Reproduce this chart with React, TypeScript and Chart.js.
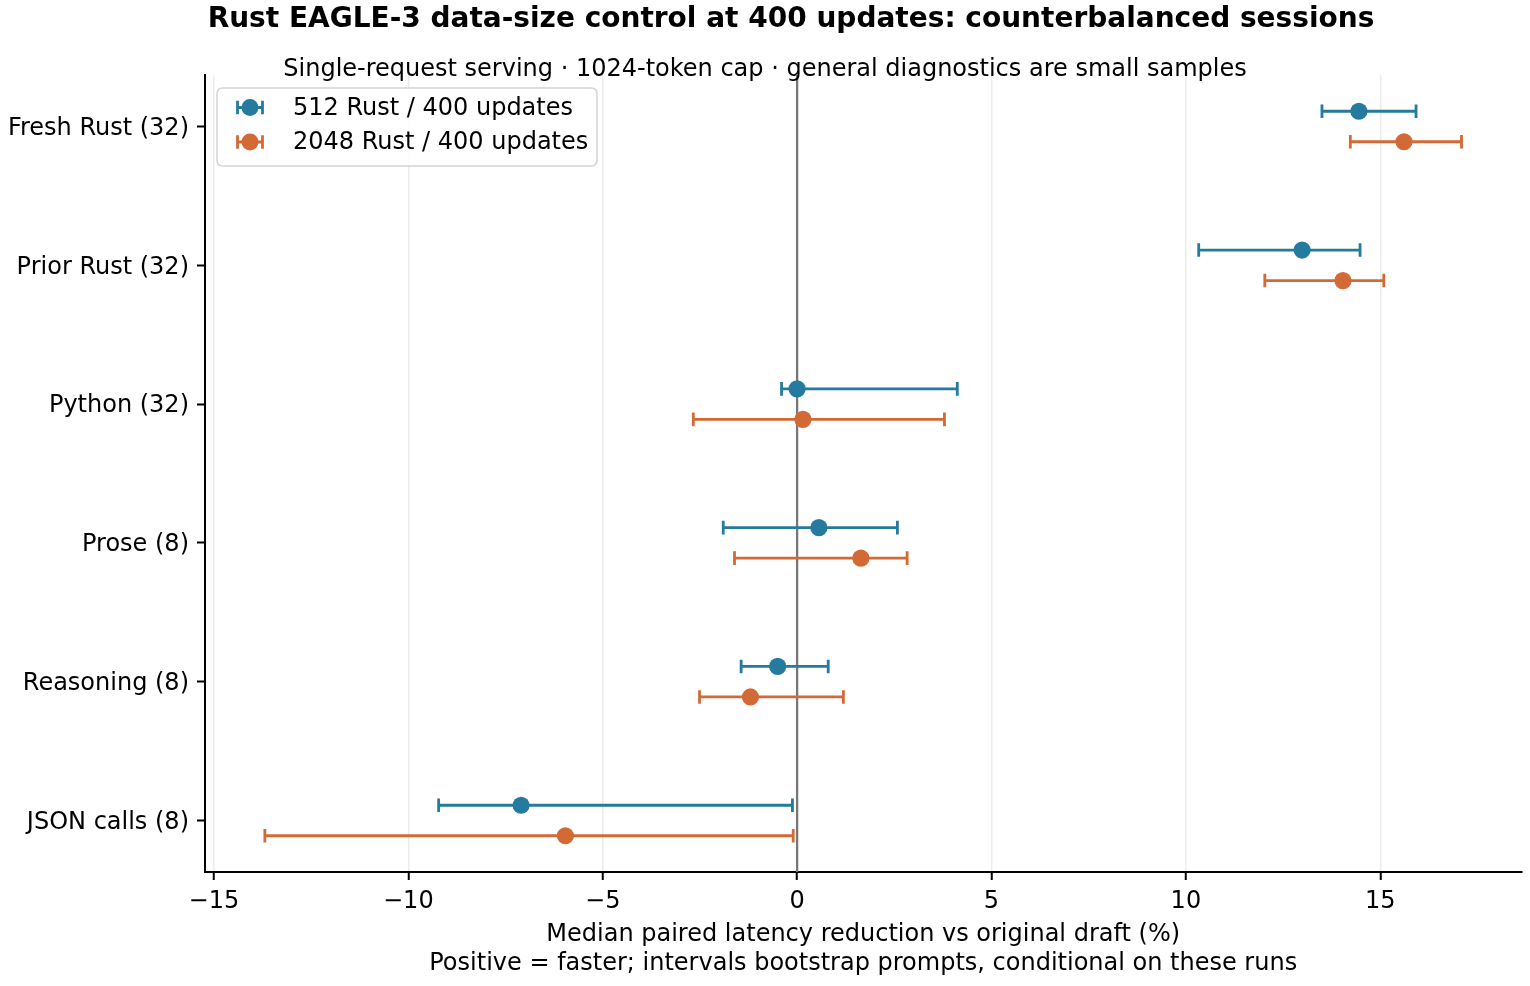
import React, { useEffect, useRef } from 'react';
import { Chart, registerables } from 'chart.js';

Chart.register(...registerables);

const categories = ['Fresh Rust (32)', 'Prior Rust (32)', 'Python (32)', 'Prose (8)', 'Reasoning (8)', 'JSON calls (8)'];
const seriesNames = ['512 Rust / 400 updates', '2048 Rust / 400 updates'];
const median512 = [14.45, 12.99, 0.0, 0.56, -0.5, -7.1];
const low512 = [13.5, 10.33, -0.4, -1.9, -1.44, -9.22];
const high512 = [15.92, 14.48, 4.12, 2.58, 0.8, -0.12];
const median2048 = [15.61, 14.04, 0.15, 1.64, -1.2, -5.96];
const low2048 = [14.23, 12.03, -2.67, -1.61, -2.51, -13.69];
const high2048 = [17.09, 15.09, 3.79, 2.83, 1.19, -0.1];
const xTicks = [-15, -10, -5, 0, 5, 10, 15];

const titleText = 'Rust EAGLE-3 data-size control at 400 updates: counterbalanced sessions';
const subtitleText = 'Single-request serving · 1024-token cap · general diagnostics are small samples';
const xLabelLines = [
  'Median paired latency reduction vs original draft (%)',
  'Positive = faster; intervals bootstrap prompts, conditional on these runs',
];

const COLORS = ['#247a9f', '#d36a35'];
const OFFSETS = [-0.11, 0.11];
const FONT = '"DejaVu Sans", "Liberation Sans", sans-serif';
const FS = 24;

export default function App() {
  const ref = useRef<HTMLCanvasElement | null>(null);

  useEffect(() => {
    document.body.style.margin = '0';
    const canvas = ref.current;
    if (!canvas) return;

    const series = [
      { med: median512, lo: low512, hi: high512 },
      { med: median2048, lo: low2048, hi: high2048 },
    ];

    const errorBars = {
      id: 'errorBars',
      beforeDatasetsDraw(chart: any) {
        const ctx = chart.ctx;
        const xs = chart.scales.x;
        const ys = chart.scales.y;
        const area = chart.chartArea;
        ctx.save();
        ctx.strokeStyle = '#777777';
        ctx.lineWidth = 2.3;
        ctx.beginPath();
        const zx = xs.getPixelForValue(0);
        ctx.moveTo(zx, area.top);
        ctx.lineTo(zx, area.bottom);
        ctx.stroke();
        series.forEach((s, si) => {
          ctx.strokeStyle = COLORS[si];
          ctx.lineWidth = 2.8;
          s.med.forEach((_, i) => {
            const y = ys.getPixelForValue(i + OFFSETS[si]);
            const x1 = xs.getPixelForValue(s.lo[i]);
            const x2 = xs.getPixelForValue(s.hi[i]);
            ctx.beginPath();
            ctx.moveTo(x1, y);
            ctx.lineTo(x2, y);
            ctx.moveTo(x1, y - 6.8);
            ctx.lineTo(x1, y + 6.8);
            ctx.moveTo(x2, y - 6.8);
            ctx.lineTo(x2, y + 6.8);
            ctx.stroke();
          });
        });
        ctx.restore();
      },
      afterDraw(chart: any) {
        const ctx = chart.ctx;
        const area = chart.chartArea;
        ctx.save();
        ctx.fillStyle = '#000';
        ctx.font = `bold 28px ${FONT}`;
        ctx.textAlign = 'center';
        ctx.textBaseline = 'middle';
        ctx.fillText(titleText, 791, 20);
        ctx.font = `${FS}px ${FONT}`;
        ctx.fillText(subtitleText, 765, 70);
        const cx = (area.left + area.right) / 2;
        ctx.fillText(xLabelLines[0], cx, 935);
        ctx.fillText(xLabelLines[1], cx, 964);

        const lx = area.left + 12;
        const ly = area.top + 13;
        const lw = 380;
        const lh = 78;
        const r = 6;
        ctx.beginPath();
        ctx.moveTo(lx + r, ly);
        ctx.lineTo(lx + lw - r, ly);
        ctx.quadraticCurveTo(lx + lw, ly, lx + lw, ly + r);
        ctx.lineTo(lx + lw, ly + lh - r);
        ctx.quadraticCurveTo(lx + lw, ly + lh, lx + lw - r, ly + lh);
        ctx.lineTo(lx + r, ly + lh);
        ctx.quadraticCurveTo(lx, ly + lh, lx, ly + lh - r);
        ctx.lineTo(lx, ly + r);
        ctx.quadraticCurveTo(lx, ly, lx + r, ly);
        ctx.closePath();
        ctx.fillStyle = 'rgba(255,255,255,0.85)';
        ctx.fill();
        ctx.strokeStyle = '#d4d4d4';
        ctx.lineWidth = 1.5;
        ctx.stroke();

        seriesNames.forEach((name, si) => {
          const y = ly + 19.5 + si * 34.5;
          const icx = lx + 33;
          ctx.strokeStyle = COLORS[si];
          ctx.lineWidth = 2.8;
          ctx.beginPath();
          ctx.moveTo(icx - 12.5, y);
          ctx.lineTo(icx + 12.5, y);
          ctx.moveTo(icx - 12.5, y - 6.8);
          ctx.lineTo(icx - 12.5, y + 6.8);
          ctx.moveTo(icx + 12.5, y - 6.8);
          ctx.lineTo(icx + 12.5, y + 6.8);
          ctx.stroke();
          ctx.fillStyle = COLORS[si];
          ctx.beginPath();
          ctx.arc(icx, y, 8.5, 0, Math.PI * 2);
          ctx.fill();
          ctx.fillStyle = '#000';
          ctx.font = `${FS}px ${FONT}`;
          ctx.textAlign = 'left';
          ctx.textBaseline = 'middle';
          ctx.fillText(name, lx + 76, y + 1);
        });
        ctx.restore();
      },
    };

    const chart = new Chart(canvas, {
      type: 'scatter',
      data: {
        datasets: series.map((s, si) => ({
          label: seriesNames[si],
          data: s.med.map((v, i) => ({ x: v, y: i + OFFSETS[si] })),
          backgroundColor: COLORS[si],
          borderColor: COLORS[si],
          borderWidth: 0,
          pointRadius: 8.6,
          pointHoverRadius: 8.6,
        })),
      },
      options: {
        responsive: false,
        animation: false,
        devicePixelRatio: 1,
        layout: { padding: { left: 0, right: 8, top: 75, bottom: 0 } },
        plugins: {
          legend: { display: false },
          title: { display: false },
          tooltip: { enabled: false },
        },
        events: [],
        scales: {
          x: {
            type: 'linear',
            min: -15.23,
            max: 18.63,
            afterBuildTicks: (scale: any) => {
              scale.ticks = xTicks.map((v) => ({ value: v }));
            },
            afterFit: (scale: any) => {
              scale.height = 114;
            },
            grid: {
              color: '#ececec',
              lineWidth: 1.5,
              drawTicks: true,
              tickLength: 8,
              tickColor: '#000',
              tickWidth: 2,
            },
            border: { display: true, color: '#000', width: 2 },
            ticks: {
              color: '#000',
              font: { family: FONT, size: FS },
              padding: 7,
              maxRotation: 0,
              callback: (v: any) => (v < 0 ? '\u2212' + Math.abs(v) : String(v)),
            },
          },
          y: {
            type: 'linear',
            min: -0.371,
            max: 5.371,
            reverse: true,
            afterBuildTicks: (scale: any) => {
              scale.ticks = categories.map((_, i) => ({ value: i }));
            },
            afterFit: (scale: any) => {
              scale.width = 205;
            },
            grid: {
              drawOnChartArea: false,
              drawTicks: true,
              tickLength: 8,
              tickColor: '#000',
              tickWidth: 2,
            },
            border: { display: true, color: '#000', width: 2 },
            ticks: {
              color: '#000',
              font: { family: FONT, size: FS },
              padding: 8,
              labelOffset: 2,
              callback: (v: any) => categories[v] ?? '',
            },
          },
        },
      },
      plugins: [errorBars],
    });

    return () => chart.destroy();
  }, []);

  return (
    <div style={{ width: 1530, height: 986, background: '#fff' }}>
      <canvas ref={ref} width={1530} height={986} style={{ width: 1530, height: 986, display: 'block' }} />
    </div>
  );
}
